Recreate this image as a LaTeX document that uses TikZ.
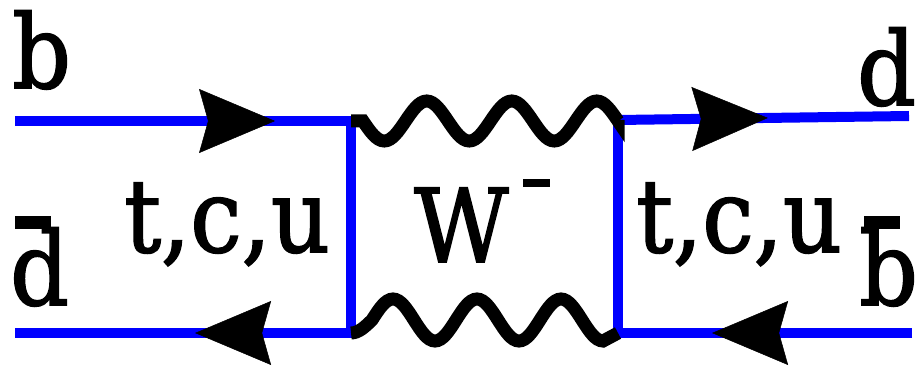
\documentclass[tikz,border=0pt]{standalone}
\usepackage{fontspec}
\setmainfont{DejaVu Serif}[FakeStretch=0.9, FakeBold=1.6]
\usetikzlibrary{arrows.meta, decorations.markings}

% bar over an antiquark letter, minus sign of the W
\newcommand\antiq[1]{\rlap{\kern5pt\raisebox{76pt}{\rule{36pt}{13pt}}}#1}
\newcommand\wminus{\kern14pt\raisebox{75pt}{\rule{27pt}{8pt}}}

\tikzset{
  quark/.style={draw=blue, line width=10pt},
  photon/.style={draw=black, line width=13pt},
  lbl/.style={font=\fontsize{102}{110}\selectfont, inner sep=0pt, anchor=base west,
    text height=78pt, text depth=0pt},
  fwd/.style={postaction={decorate}, decoration={markings, mark=at position #1 with
    {\arrow{Stealth[length=76pt, width=64pt, inset=9pt, line width=0.5pt, color=black]}}}}
}

\begin{document}
\begin{tikzpicture}[x=1pt, y=-1pt]
  \useasboundingbox (0,0) rectangle (920,366);
  % external legs and vertices
  \coordinate (b1) at (15,121);
  \coordinate (d1) at (15,333);
  \coordinate (v1) at (351,121);
  \coordinate (v2) at (351,333);
  \coordinate (v3) at (618,120);
  \coordinate (v4) at (618,333);
  \coordinate (d2) at (909,116);
  \coordinate (b2) at (912,333);

  \draw[quark, fwd=0.774] (b1) -- (v1);
  \draw[quark, fwd=0.464] (v2) -- (d1);
  \draw[quark, line cap=rect] (v1) -- (v2);
  \draw[quark, fwd=0.515] (v3) -- (d2);
  \draw[quark, fwd=0.68] (b2) -- (v4);
  \draw[quark, line cap=rect] (v3) -- (v4);

  % W lines
  \draw[photon] (v1) -- ++(12,0)
    \foreach \k in {1,2,3} {sin ++(21.25,20) cos ++(21.25,-20) sin ++(21.25,-20) cos ++(21.25,20)}
    -- (v3);
  \draw[photon] (v2) cos ++(21,-13)
    \foreach \k in {1,2} {sin ++(21,-21) cos ++(21,21) sin ++(21,21) cos ++(21,-21)}
    sin ++(21,-21) cos ++(21,21) sin ++(21,21) -- (v4);

  % labels
  \node[lbl] (b) at (12,88) {b};
  \node[lbl] (dbar) at (10,305) {\antiq{d}};
  \node[lbl] (loopl) at (124,252) {t,c,u};
  \node[lbl] (w) at (414,262) {W\wminus};
  \node[lbl] (loopr) at (636,252) {t,c,u};
  \node[lbl] (d) at (857,105) {d};
  \node[lbl] (bbar) at (859,305) {\antiq{b}};
\end{tikzpicture}
\end{document}
